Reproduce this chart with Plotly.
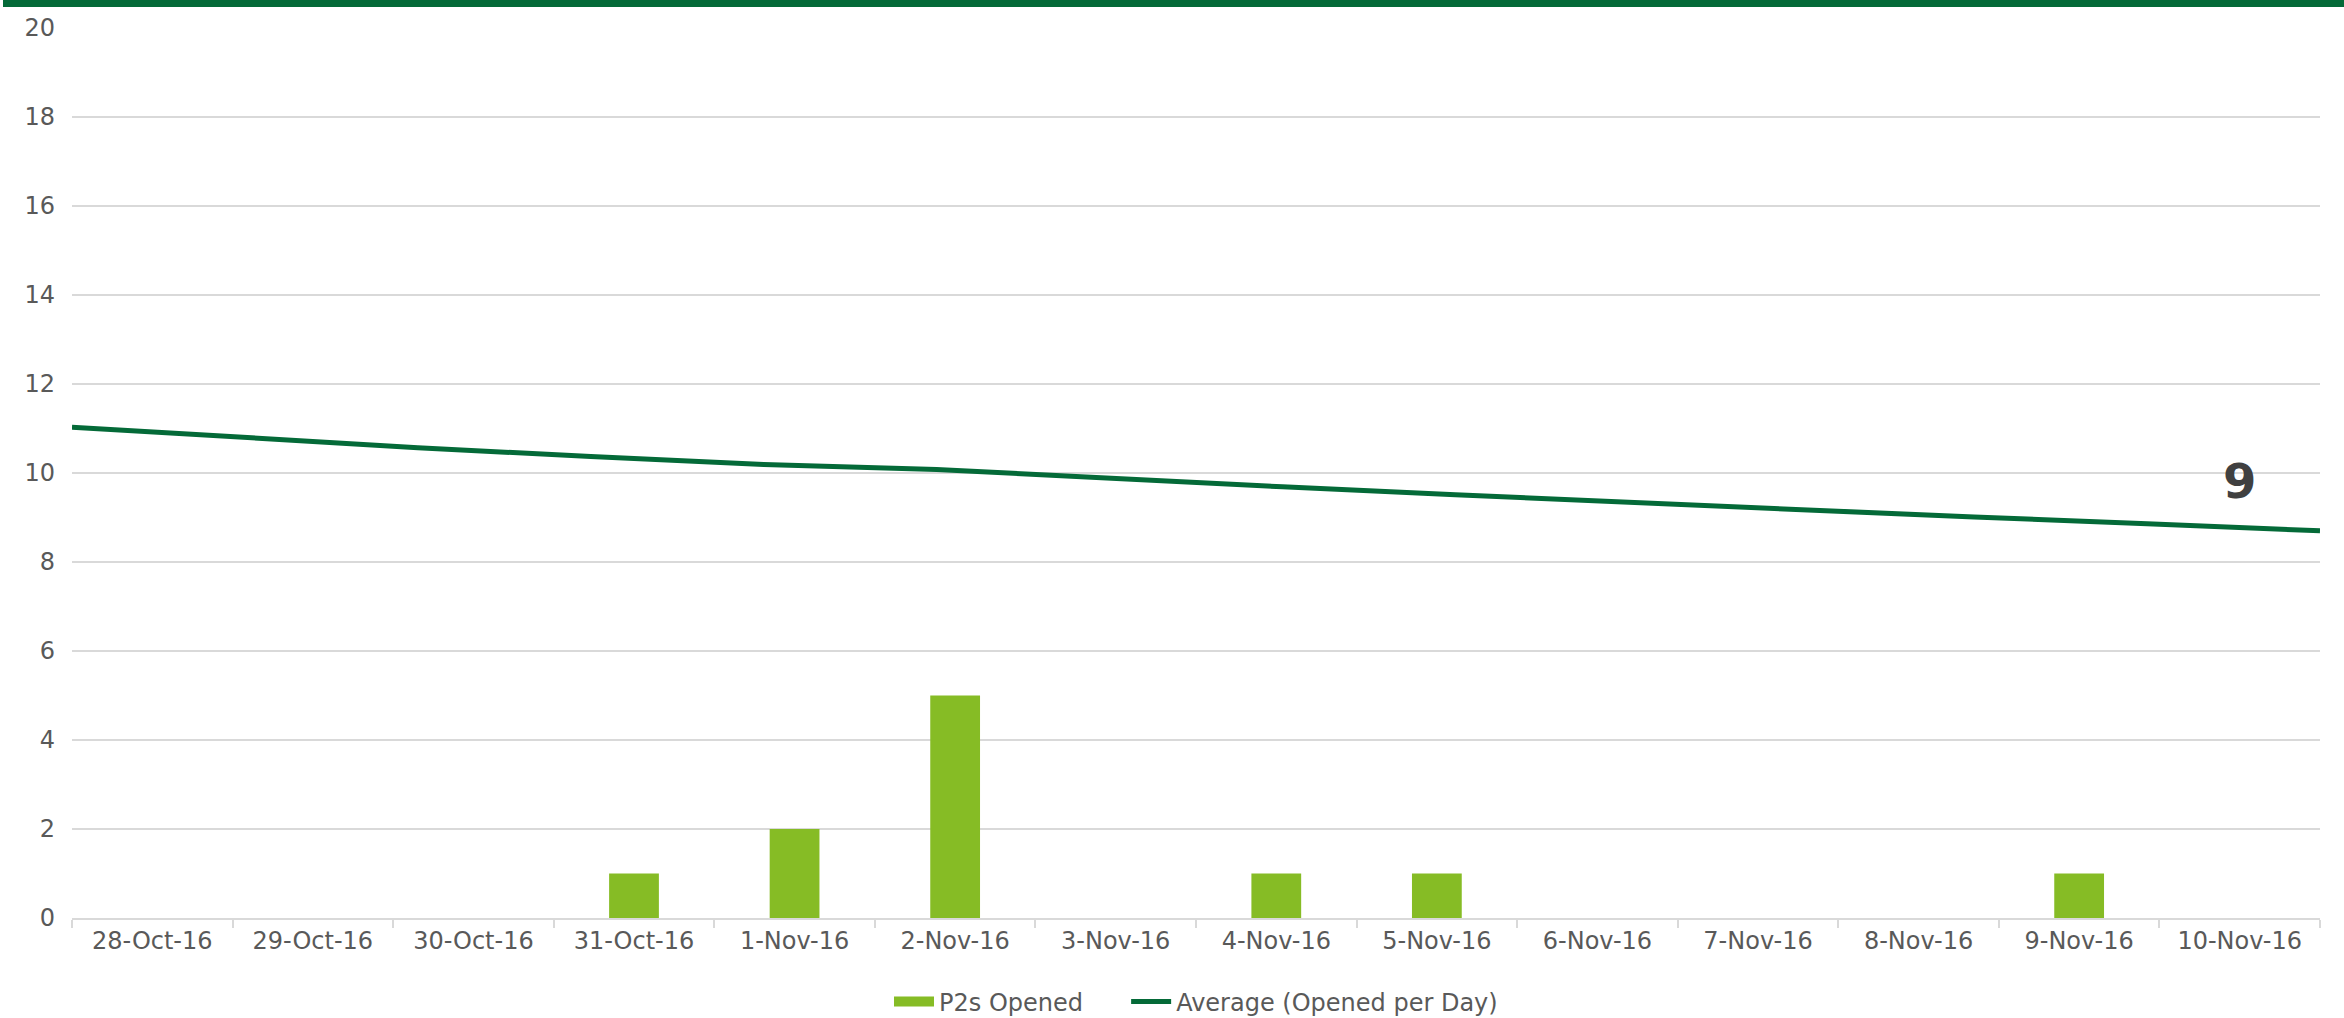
import plotly.graph_objects as go

categories = ["28-Oct-16", "29-Oct-16", "30-Oct-16", "31-Oct-16", "1-Nov-16", "2-Nov-16",
              "3-Nov-16", "4-Nov-16", "5-Nov-16", "6-Nov-16", "7-Nov-16", "8-Nov-16",
              "9-Nov-16", "10-Nov-16"]
p2s_opened = [0, 0, 0, 1, 2, 5, 0, 1, 1, 0, 0, 0, 1, 0]
average_per_day = [11.03, 10.80, 10.57, 10.37, 10.19, 10.08, 9.88, 9.69, 9.51, 9.34,
                   9.17, 9.01, 8.86, 8.70]
y_ticks = [0, 2, 4, 6, 8, 10, 12, 14, 16, 18, 20]

BAR_GREEN = "#86BC25"
DARK_GREEN = "#046A38"
TEXT_GREY = "#595959"
GRID_GREY = "#D9D9D9"
FONT = "DejaVu Sans"
FS = 24

W, H = 2344, 1018
ML, MR, MT, MB = 72, 24, 28, 100
plot_h = H - MT - MB
plot_w = W - ML - MR

fig = go.Figure()
fig.add_trace(go.Bar(
    x=categories, y=p2s_opened, name="P2s Opened",
    marker=dict(color=BAR_GREEN, line=dict(width=0)),
    xaxis="x", yaxis="y", showlegend=False,
))
# legend entry for the bars (wide rectangle swatch like the original)
fig.add_trace(go.Scatter(
    x=[None], y=[None], name="P2s Opened\u00a0\u00a0\u00a0\u00a0\u00a0",
    mode="lines", line=dict(color=BAR_GREEN, width=15),
    xaxis="x", yaxis="y",
))
fig.add_trace(go.Scatter(
    x=categories, y=average_per_day, name="Average (Opened per Day)",
    mode="lines", line=dict(color=DARK_GREEN, width=5),
    xaxis="x2", yaxis="y",
))

fig.add_annotation(
    x=categories[-1], y=average_per_day[-1], xref="x", yref="y",
    text=f"<b>{round(average_per_day[-1]):d}</b>", showarrow=False,
    font=dict(family=FONT, size=48, color="#404040"),
    yanchor="middle", yshift=50,
)

# top dark-green band
fig.add_shape(type="rect", xref="paper", yref="paper",
              x0=(3 - ML) / plot_w, x1=(W - ML) / plot_w,
              y0=(H - MB - 7) / plot_h, y1=(H - MB) / plot_h,
              fillcolor=DARK_GREEN, line=dict(width=0), layer="above")

fig.update_layout(
    width=W, height=H,
    margin=dict(l=ML, r=MR, t=MT, b=MB, autoexpand=False),
    paper_bgcolor="white", plot_bgcolor="white",
    font=dict(family=FONT, size=FS, color=TEXT_GREY),
    bargap=0.69,
    showlegend=True,
    legend=dict(orientation="h", x=0.5, xanchor="center",
                y=-(1002 - (H - MB)) / plot_h, yanchor="middle",
                font=dict(family=FONT, size=FS, color=TEXT_GREY),
                itemwidth=40, traceorder="normal"),
    xaxis=dict(type="category", categoryorder="array", categoryarray=categories,
               showgrid=False, showline=True, linecolor=GRID_GREY, linewidth=2,
               ticks="outside", tickson="boundaries", ticklen=8, tickcolor=GRID_GREY,
               tickwidth=2, tickfont=dict(family=FONT, size=FS, color=TEXT_GREY),
               zeroline=False, fixedrange=True, automargin=False),
    xaxis2=dict(type="category", overlaying="x", range=[0, len(categories) - 1],
                visible=False, showgrid=False, zeroline=False, automargin=False),
    yaxis=dict(range=[0, 20], tickvals=y_ticks, showgrid=True, gridcolor=GRID_GREY,
               gridwidth=2, zeroline=False, showline=False, ticks="",
               ticklabelstandoff=16, automargin=False,
               tickfont=dict(family=FONT, size=FS, color=TEXT_GREY)),
)

fig.write_html("out.html",
               config={"displayModeBar": False},
               post_script="document.body.style.margin='0px';"
                           "document.body.style.overflow='hidden';")
